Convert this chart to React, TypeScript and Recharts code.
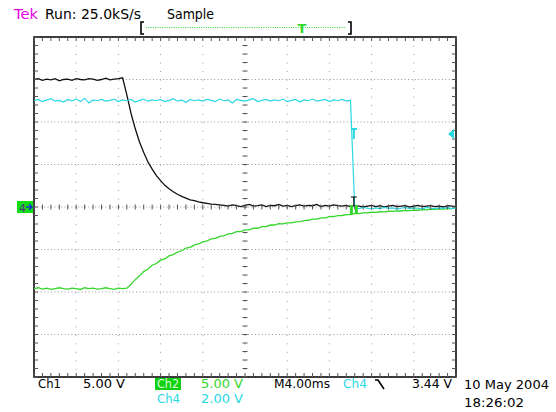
import React from 'react';
import {
  ComposedChart,
  Line,
  Scatter,
  XAxis,
  YAxis,
  CartesianGrid,
  ReferenceArea,
  ReferenceDot,
} from 'recharts';

// samples every 0.1 division (0.4 ms), 101 per channel
const ch1Volts = [
  15.0, 15.1, 14.9, 15.05, 14.95, 15.1, 14.85, 15.0, 15.05, 14.9,
  15.1, 15.0, 14.95, 15.1, 15.05, 14.9, 15.0, 15.15, 14.95, 15.05,
  15.1, 15.2,
  13.2, 11.0, 9.2, 7.65, 6.4, 5.3, 4.45, 3.7, 3.1, 2.55,
  2.15, 1.8, 1.5, 1.25, 1.05, 0.85, 0.75, 0.6, 0.5, 0.42,
  0.35, 0.3, 0.25,
  0.2, 0.1, 0.25, 0.15, 0.05, 0.2, 0.3, 0.1, 0.15, 0.25,
  0.05, 0.2, 0.15, 0.3, 0.1, 0.2, 0.05, 0.15, 0.25, 0.1,
  0.2, 0.15, 0.3, 0.05, 0.2, 0.1, 0.25, 0.15, 0.1, 0.2,
  0.05, 0.15, 0.1, 0.0, 0.1, 0.2, 0.05, 0.15, 0.0, 0.1,
  0.2, 0.05, 0.1, 0.15, 0.0, 0.1, 0.2, 0.05, 0.1, 0.15,
  0.05, 0.1, 0.0, 0.15, 0.1, 0.05,
];

const ch2Volts = [
  -9.6, -9.5, -9.65, -9.55, -9.7, -9.6, -9.5, -9.6, -9.65, -9.55,
  -9.6, -9.7, -9.5, -9.6, -9.55, -9.65, -9.6, -9.5, -9.6, -9.7,
  -9.55, -9.6, -9.55,
  -9.1, -8.55, -8.1, -7.6, -7.3, -6.85, -6.65, -6.25, -6.1, -5.75,
  -5.6, -5.3, -5.15, -4.85, -4.75, -4.45, -4.35, -4.1, -4.0, -3.75,
  -3.7, -3.45, -3.4, -3.15, -3.1, -2.9, -2.9, -2.7,
  -2.7, -2.5, -2.5, -2.3, -2.3, -2.12, -2.12, -1.97, -1.98, -1.86,
  -1.86, -1.74, -1.72, -1.6, -1.56, -1.43, -1.42, -1.28, -1.27, -1.14,
  -1.12, -1.01, -1.0, -0.89, -0.88, -0.77, -0.78, -0.69, -0.7, -0.62,
  -0.64, -0.56, -0.58, -0.5, -0.52, -0.45, -0.47, -0.4, -0.43, -0.36,
  -0.38, -0.3, -0.33, -0.26, -0.29, -0.22, -0.25, -0.18, -0.2, -0.14,
];

const ch4Volts = [
  5.0, 5.06, 4.96, 5.04, 5.1, 4.98, 5.02, 4.94, 5.06, 5.0,
  5.08, 4.96, 5.12, 4.9, 5.04, 5.0, 5.06, 4.98, 5.02, 5.08,
  4.96, 5.04, 5.0, 5.06, 4.94, 5.02, 5.08, 4.98, 5.04, 5.0,
  5.06, 4.96, 5.02, 5.1, 4.98, 5.04, 4.92, 5.06, 5.0, 5.04,
  4.98, 5.06, 5.02, 4.96, 5.08, 5.0, 5.04, 4.9, 5.06, 5.02,
  4.98, 5.04, 5.1, 4.96, 5.02, 5.06, 4.98, 5.04, 5.0, 5.08,
  4.96, 5.02, 5.06, 4.94, 5.04, 5.0, 5.08, 4.98, 5.02, 5.06,
  4.96, 5.04, 5.0, 5.06, 4.98, 5.02,
  -0.04, -0.08, -0.02, -0.06, -0.1, -0.04, -0.08, -0.02, -0.06, -0.04,
  -0.1, -0.06, -0.02, -0.08, -0.04, -0.06, -0.1, -0.02, -0.06, -0.08,
  -0.04, -0.06, -0.02, -0.08, -0.04,
];

const voltsPerDiv = { ch1: 5, ch2: 5, ch4: 2 };
const triggerLevel = 3.44; // volts on ch4
const triggerIndex = 75.8;

const majorX = [0, 10, 20, 30, 40, 50, 60, 70, 80, 90, 100];
const majorY = [-4, -3, -2, -1, 0, 1, 2, 3, 4];
const minorX = Array.from({ length: 51 }, (_, k) => k * 2);
const minorY = Array.from({ length: 41 }, (_, k) => -4 + k * 0.2);

const data = ch1Volts.map((v, i) => ({
  i,
  ch1: v / voltsPerDiv.ch1,
  ch2: ch2Volts[i] / voltsPerDiv.ch2,
  ch4: ch4Volts[i] / voltsPerDiv.ch4,
}));

const BLACK = '#111';
const CYAN = '#2ad8e4';
const GREEN = '#35d62c';
const GRID = '#9a9a9a';

const tick = (dx1: number, dy1: number, dx2: number, dy2: number) => (p: any) => (
  <line
    x1={p.cx + dx1}
    y1={p.cy + dy1}
    x2={p.cx + dx2}
    y2={p.cy + dy2}
    stroke="#555"
    strokeWidth={1}
  />
);

const topTicks = minorX.map((i) => ({ i, v: 4 }));
const bottomTicks = minorX.map((i) => ({ i, v: -4 }));
const midHTicks = minorX.map((i) => ({ i, v: 0 }));
const leftTicks = minorY.map((v) => ({ i: 0, v }));
const rightTicks = minorY.map((v) => ({ i: 100, v }));
const midVTicks = minorY.map((v) => ({ i: 50, v }));

const font = '"DejaVu Sans", Verdana, sans-serif';

export default function App() {
  return (
    <div style={{ position: 'absolute', left: 0, top: 0, width: 556, height: 412, background: '#fff' }}>
      <ComposedChart
        width={556}
        height={412}
        data={data}
        margin={{ top: 37, right: 100, bottom: 35, left: 34 }}
      >
        <XAxis dataKey="i" type="number" domain={[0, 100]} ticks={majorX} hide />
        <YAxis type="number" domain={[-4, 4]} ticks={majorY} hide />
        <CartesianGrid horizontal={false} stroke={GRID} strokeDasharray="1 7.51" />
        <CartesianGrid vertical={false} stroke={GRID} strokeDasharray="1 2.4" />
        <ReferenceArea x1={0} x2={100} y1={-4} y2={4} fill="none" fillOpacity={0} stroke="#000" strokeWidth={1.5} />

        <Scatter data={topTicks} dataKey="v" shape={tick(0, 0, 0, 4)} isAnimationActive={false} />
        <Scatter data={bottomTicks} dataKey="v" shape={tick(0, -4, 0, 0)} isAnimationActive={false} />
        <Scatter data={midHTicks} dataKey="v" shape={tick(0, -2.5, 0, 2.5)} isAnimationActive={false} />
        <Scatter data={leftTicks} dataKey="v" shape={tick(0, 0, 4, 0)} isAnimationActive={false} />
        <Scatter data={rightTicks} dataKey="v" shape={tick(-4, 0, 0, 0)} isAnimationActive={false} />
        <Scatter data={midVTicks} dataKey="v" shape={tick(-2.5, 0, 2.5, 0)} isAnimationActive={false} />

        <Line dataKey="ch2" stroke={GREEN} strokeWidth={1.3} dot={false} isAnimationActive={false} type="linear" />
        <Line dataKey="ch1" stroke={BLACK} strokeWidth={1.3} dot={false} isAnimationActive={false} type="linear" />
        <Line dataKey="ch4" stroke={CYAN} strokeWidth={1.2} dot={false} isAnimationActive={false} type="linear" />

        {/* ground marker for channels */}
        <ReferenceDot
          x={0}
          y={0}
          r={0}
          ifOverflow="visible"
          shape={(p: any) => (
            <g>
              <rect x={p.cx - 17} y={p.cy - 6} width={16} height={12} fill="#12e012" />
              <text x={p.cx - 15} y={p.cy + 4.5} fontSize={11} fontFamily={font} fill="#5a2a8a">4</text>
              <path d={`M${p.cx - 8} ${p.cy} H${p.cx - 2} M${p.cx - 5} ${p.cy - 3} L${p.cx - 2} ${p.cy} L${p.cx - 5} ${p.cy + 3}`} stroke="#1030d0" strokeWidth={1.4} fill="none" />
            </g>
          )}
        />
        {/* trigger level arrow */}
        <ReferenceDot
          x={100}
          y={triggerLevel / voltsPerDiv.ch4}
          r={0}
          ifOverflow="visible"
          shape={(p: any) => (
            <polygon points={`${p.cx - 2},${p.cy - 5} ${p.cx - 2},${p.cy + 5} ${p.cx - 8},${p.cy}`} fill={CYAN} />
          )}
        />
        {/* trigger point on ch4 */}
        <ReferenceDot
          x={triggerIndex}
          y={triggerLevel / voltsPerDiv.ch4}
          r={0}
          ifOverflow="visible"
          shape={(p: any) => (
            <path d={`M${p.cx - 3} ${p.cy - 5} H${p.cx + 3} M${p.cx} ${p.cy - 5} V${p.cy + 5}`} stroke={CYAN} strokeWidth={2} fill="none" />
          )}
        />
        <ReferenceDot
          x={triggerIndex}
          y={0}
          r={0}
          ifOverflow="visible"
          shape={(p: any) => (
            <g>
              <path d={`M${p.cx - 3} ${p.cy - 10} H${p.cx + 3} M${p.cx} ${p.cy - 10} V${p.cy - 1}`} stroke="#000" strokeWidth={1.2} fill="none" />
              <rect x={p.cx - 4} y={p.cy - 2} width={3} height={9} fill={GREEN} />
              <rect x={p.cx + 1} y={p.cy - 2} width={3} height={9} fill={GREEN} />
            </g>
          )}
        />
      </ComposedChart>

      <svg
        width={556}
        height={412}
        style={{ position: 'absolute', left: 0, top: 0, pointerEvents: 'none' }}
        fontFamily={font}
      >
        <text x={14} y={19} fontSize={14} fill="#e600e6" textLength={24} lengthAdjust="spacingAndGlyphs">Tek</text>
        <text x={45} y={19} fontSize={14} fill="#000" textLength={96} lengthAdjust="spacingAndGlyphs">Run: 25.0kS/s</text>
        <text x={167} y={19} fontSize={14} fill="#000" textLength={47} lengthAdjust="spacingAndGlyphs">Sample</text>

        <path d="M144 22 H141 V34 H144" stroke="#000" strokeWidth={1.6} fill="none" />
        <path d="M348 22 H351 V34 H348" stroke="#000" strokeWidth={1.6} fill="none" />
        <line x1={146} y1={27.5} x2={346} y2={27.5} stroke={GREEN} strokeWidth={1} strokeDasharray="1 1.3" />
        <text x={302} y={33} fontSize={13} fill={GREEN} textAnchor="middle" fontWeight="bold">T</text>

        <text x={38} y={388} fontSize={12} fill="#000" textLength={23} lengthAdjust="spacingAndGlyphs">Ch1</text>
        <text x={83} y={388} fontSize={12} fill="#000" textLength={42} lengthAdjust="spacingAndGlyphs">5.00 V</text>
        <rect x={155} y={378} width={26} height={12} fill="#10d010" />
        <text x={157} y={388} fontSize={12} fill="#d8ffd8" textLength={22} lengthAdjust="spacingAndGlyphs">Ch2</text>
        <text x={201} y={388} fontSize={12} fill={GREEN} textLength={42} lengthAdjust="spacingAndGlyphs">5.00 V</text>
        <text x={274} y={388} fontSize={12} fill="#000" textLength={56} lengthAdjust="spacingAndGlyphs">M4.00ms</text>
        <text x={343} y={388} fontSize={12} fill={CYAN} textLength={24} lengthAdjust="spacingAndGlyphs">Ch4</text>
        <path d="M375 380 H378 L384 389" stroke="#000" strokeWidth={1.6} fill="none" />
        <text x={412} y={388} fontSize={12} fill="#000" textLength={40} lengthAdjust="spacingAndGlyphs">3.44 V</text>

        <text x={157} y={403} fontSize={12} fill={CYAN} textLength={23} lengthAdjust="spacingAndGlyphs">Ch4</text>
        <text x={201} y={403} fontSize={12} fill={CYAN} textLength={42} lengthAdjust="spacingAndGlyphs">2.00 V</text>

        <text x={464} y={389} fontSize={13} fill="#000" textLength={85} lengthAdjust="spacingAndGlyphs">10 May 2004</text>
        <text x={464} y={407} fontSize={13} fill="#000" textLength={60} lengthAdjust="spacingAndGlyphs">18:26:02</text>
      </svg>
    </div>
  );
}
